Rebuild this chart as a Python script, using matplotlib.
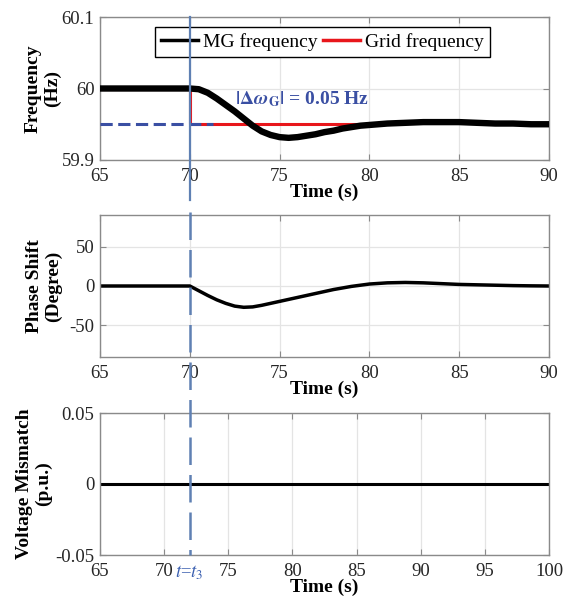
import matplotlib
matplotlib.use("Agg")
import matplotlib.pyplot as plt
from matplotlib.lines import Line2D
import matplotlib.transforms as mtransforms

plt.rcParams['font.family'] = ['Liberation Serif', 'DejaVu Serif']
plt.rcParams['mathtext.fontset'] = 'stix'
plt.rcParams['axes.unicode_minus'] = False

# ---- data ----
mg_t = [65, 66, 67, 68, 69, 70, 70.5, 71, 71.5, 72, 72.5, 73, 73.5, 74, 74.5, 75,
        75.5, 76, 76.5, 77, 77.5, 78, 78.5, 79, 79.5, 80, 81, 82, 83, 84, 85, 86,
        87, 88, 89, 90]
mg_f = [60.000, 60.000, 60.000, 60.000, 60.000, 60.000, 59.999, 59.994, 59.986,
        59.977, 59.968, 59.958, 59.948, 59.940, 59.935, 59.932, 59.931, 59.932,
        59.934, 59.936, 59.939, 59.941, 59.944, 59.946, 59.948, 59.949, 59.951,
        59.952, 59.953, 59.953, 59.953, 59.952, 59.951, 59.951, 59.950, 59.950]

grid_t = [65, 70, 70, 80]
grid_f = [60.0, 60.0, 59.95, 59.95]

ref_t = [65, 71.3]
ref_f = [59.95, 59.95]

ph_t = [65, 70, 70.5, 71, 71.5, 72, 72.5, 73, 73.5, 74, 74.5, 75, 75.5, 76, 76.5,
        77, 77.5, 78, 78.5, 79, 79.5, 80, 81, 82, 83, 84, 85, 86, 87, 88, 89, 90]
ph_v = [0, 0, -6, -12, -17.5, -22, -25.5, -27, -26.5, -24.5, -22, -19.5, -17,
        -14.5, -12, -9.5, -7, -4.5, -2.5, -0.5, 1, 2.5, 4, 4.5, 4, 3, 2, 1.5, 1,
        0.5, 0.2, 0]

vm_t = [65, 70, 75, 80, 85, 90, 95, 100]
vm_v = [0, 0, 0, 0, 0, 0, 0, 0]

event_t = 70

xt1 = [65, 70, 75, 80, 85, 90]
xt3 = [65, 70, 75, 80, 85, 90, 95, 100]
yt1 = [59.9, 60.0, 60.1]
yt1_lab = ['59.9', '60', '60.1']
yt2 = [-50, 0, 50]
yt3 = [-0.05, 0, 0.05]
yt3_lab = ['-0.05', '0', '0.05']

# ---- figure ----
fig = plt.figure(figsize=(5.65, 5.99), dpi=100)
L, W = 100 / 565, 449 / 565
ax1 = fig.add_axes([L, 1 - 160 / 599, W, 143 / 599])
ax2 = fig.add_axes([L, 1 - 357 / 599, W, 142 / 599])
ax3 = fig.add_axes([L, 1 - 555 / 599, W, 142 / 599])

fs_tick = 13.5
fs_lab = 14
for ax in (ax1, ax2, ax3):
    ax.grid(True, color='#e4e4e4', lw=0.9)
    ax.set_axisbelow(True)
    for s in ax.spines.values():
        s.set_color('#8a8a8a')
        s.set_linewidth(1.0)
    ax.tick_params(direction='in', length=4, width=0.8, color='#8a8a8a',
                   top=True, right=True, labelsize=fs_tick, labelcolor='#262626')
    ax.tick_params(axis='x', pad=6)
    ax.tick_params(axis='y', pad=4)
    ax.set_xlabel('Time (s)', fontsize=fs_lab, fontweight='bold', labelpad=-1)

# top
ax1.plot(grid_t, grid_f, color='#e8161b', lw=2.2, zorder=2)
ax1.plot(ref_t, ref_f, color='#3a4fa3', lw=2.2, ls=(0, (4, 1.8)), zorder=3)
ax1.plot(mg_t, mg_f, color='black', lw=4.6, zorder=4)
h_mg = Line2D([], [], color='black', lw=2.5)
h_gr = Line2D([], [], color='#e8161b', lw=2.5)
ax1.set_xlim(65, 90)
ax1.set_ylim(59.9, 60.1)
ax1.set_xticks(xt1)
ax1.set_yticks(yt1)
ax1.set_yticklabels(yt1_lab)
ax1.set_ylabel('Frequency\n(Hz)', fontsize=fs_lab, fontweight='bold', labelpad=0)
leg = ax1.legend([h_mg, h_gr], ['MG frequency', 'Grid frequency'], ncol=2,
                 loc='upper left', bbox_to_anchor=(0.1225, 0.93), borderaxespad=0,
                 fontsize=fs_lab, frameon=True, fancybox=False, edgecolor='black',
                 framealpha=1, handlelength=1.9, handletextpad=0.25,
                 columnspacing=0.3, borderpad=0.3)
leg.get_frame().set_linewidth(1.0)
ax1.text(72.5, 59.9845,
         r'$\mathbf{|\Delta}\boldsymbol{\omega}_{\mathbf{G}}\mathbf{|}$ = 0.05 Hz',
         color='#3a4fa3', fontsize=fs_lab, fontweight='bold', va='center', ha='left')

# middle
ax2.plot(ph_t, ph_v, color='black', lw=2.5)
ax2.set_xlim(65, 90)
ax2.set_ylim(-90, 90)
ax2.set_xticks(xt1)
ax2.set_yticks(yt2)
ax2.set_ylabel('Phase Shift\n(Degree)', fontsize=fs_lab, fontweight='bold', labelpad=5)

# bottom
ax3.plot(vm_t, vm_v, color='black', lw=2.2)
ax3.set_xlim(65, 100)
ax3.set_ylim(-0.05, 0.05)
ax3.set_xticks(xt3)
ax3.set_yticks(yt3)
ax3.set_yticklabels(yt3_lab)
ax3.set_ylabel('Voltage Mismatch\n(p.u.)', fontsize=fs_lab, fontweight='bold', labelpad=2)

# figure-spanning event line
tr = mtransforms.blended_transform_factory(ax1.transData, fig.transFigure)
y_top = ax1.get_position().y1
y_brk = ax1.get_position().y0 - 40 / 599
y_bot = ax3.get_position().y0
lc = '#5f80b3'
fig.add_artist(Line2D([event_t, event_t], [y_top, y_brk], transform=tr,
                      color=lc, lw=1.6, zorder=10))
fig.add_artist(Line2D([event_t, event_t], [y_brk - 12 / 599, y_bot], transform=tr,
                      color=lc, lw=1.8, ls=(0, (11, 4)), zorder=10))
fig.text(event_t, y_bot - 18 / 599, r'$t$=$t_3$', transform=tr, color='#3a5fb0',
         fontsize=fs_tick, ha='center', va='center')
fig.savefig('out.png', dpi=100)
